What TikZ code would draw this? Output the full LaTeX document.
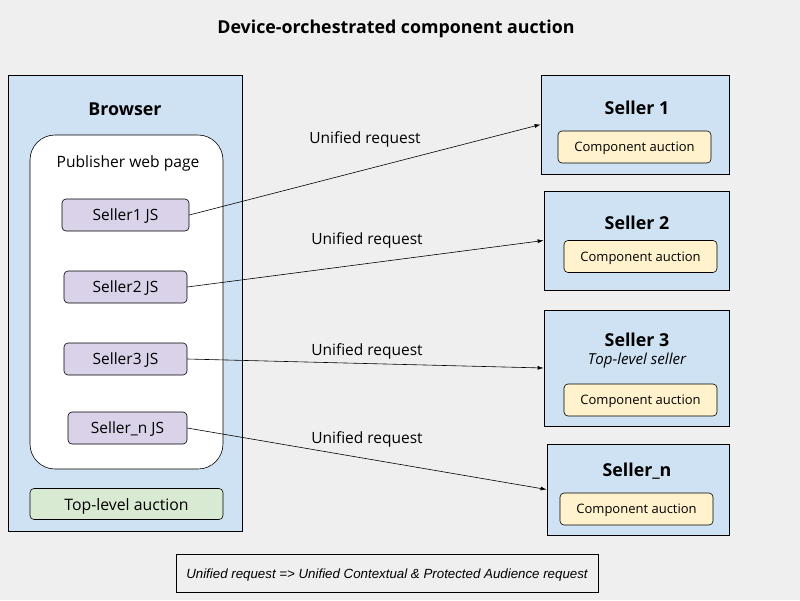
\documentclass[tikz,border=0pt]{standalone}
\usepackage{fontspec}
\setmainfont{Open Sans}
\newfontfamily\notefont{Liberation Sans}
\usetikzlibrary{arrows.meta}
\definecolor{bgc}{HTML}{EFEFEF}
\definecolor{panelc}{HTML}{CFE2F3}
\definecolor{jsc}{HTML}{D9D2E9}
\definecolor{topc}{HTML}{D9EAD3}
\definecolor{compc}{HTML}{FFF2CC}

\begin{document}
\begin{tikzpicture}[x=1pt,y=-1pt,
  panel/.style={draw,fill=panelc,line width=0.8pt},
  head/.style={font=\bfseries\fontsize{17.8}{20}\selectfont},
  inbox/.style={draw,rounded corners=4pt,line width=0.6pt,text depth=0pt,font=\fontsize{15.5}{17}\selectfont},
  req/.style={-{Latex[length=6pt,width=4pt]},line width=0.6pt},
  reqlab/.style={font=\fontsize{15.5}{17}\selectfont}]
  \useasboundingbox[fill=bgc] (0,0) rectangle (800,600);
  \node[head] (title) at (396,28.5) {Device-orchestrated component auction};
  % browser side
  \node[panel,minimum width=234,minimum height=456] (browser) at (125,303) {};
  \node[head] (browserlab) at (125,109) {Browser};
  \node[draw,fill=white,rounded corners=25pt,line width=0.6pt,minimum width=193,minimum height=334] (page) at (126.5,302) {};
  \node[font=\fontsize{15.6}{17}\selectfont] (pagelab) at (128,163) {Publisher web page};
  \node[inbox,fill=topc,minimum width=193,minimum height=31,font=\fontsize{15.8}{17}\selectfont] (toplevel) at (126.5,504) {Top-level auction};
  \foreach \n/\lab/\x/\y/\w in {1/Seller1 JS/125.5/215/127, 2/Seller2 JS/125.5/287/123, 3/Seller3 JS/125.5/359/123, n/Seller\_n JS/127.5/428/119}
    \node[inbox,fill=jsc,minimum width=\w,minimum height=32] (js\n) at (\x,\y) {\lab};
  % sellers
  \foreach \n/\lab/\x/\y/\w/\h/\ty/\cx/\cy in {1/Seller 1/635/124.5/188/99/108/634.5/147, 2/Seller 2/636.5/240.5/185/99/223/640.5/256.5, 3/Seller 3/636.5/368/185/116/340/640.5/400, n/Seller\_n/638/489.5/182/91/471/636.5/509} {
    \node[panel,minimum width=\w,minimum height=\h] (seller\n) at (\x,\y) {};
    \node[head] (sellerlab\n) at (637,\ty) {\lab};
    \node[inbox,fill=compc,minimum width=153,minimum height=32,font=\fontsize{13}{15}\selectfont] (comp\n) at (\cx,\cy) {Component auction};
  }
  \node[font=\itshape\fontsize{15.1}{17}\selectfont] (toplab) at (637,361) {Top-level seller};
  % requests
  \foreach \n/\lx/\ly in {1/365/139, 2/367/240, 3/367/351, n/367/439} {
    \draw[req] (js\n.east) -- (seller\n.west);
    \node[reqlab] (reqlab\n) at (\lx,\ly) {Unified request};
  }
  \node[draw,fill=bgc,line width=0.6pt,minimum width=422,minimum height=38,text depth=0pt,font=\notefont\itshape\fontsize{13.3}{15}\selectfont] (note) at (387,573.5) {Unified request => Unified Contextual \& Protected Audience request};
\end{tikzpicture}
\end{document}
